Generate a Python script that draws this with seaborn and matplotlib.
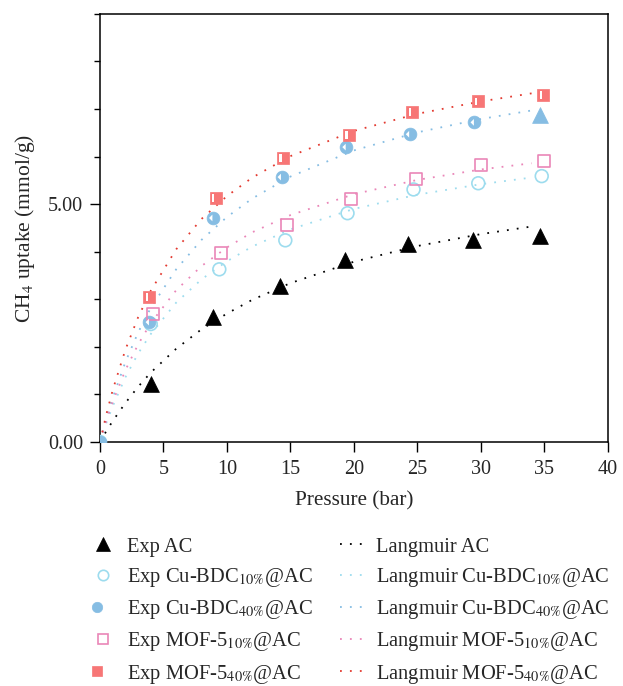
import numpy as np
import pandas as pd
import matplotlib
matplotlib.use("Agg")
import matplotlib.pyplot as plt
from matplotlib.lines import Line2D
from matplotlib.legend_handler import HandlerTuple
from matplotlib.ticker import MultipleLocator, FormatStrFormatter
import seaborn as sns

# experimental points (pressure in bar, uptake in mmol/g)
p_ac = [4.0, 8.9, 14.2, 19.3, 24.3, 29.4, 34.7]
q_ac = [1.22, 2.63, 3.28, 3.82, 4.16, 4.24, 4.33]

p_cu10 = [0.0, 4.0, 9.4, 14.6, 19.5, 24.7, 29.8, 34.8]
q_cu10 = [0.0, 2.48, 3.63, 4.24, 4.81, 5.31, 5.44, 5.59]

p_cu40 = [0.0, 3.9, 8.9, 14.3, 19.4, 24.4, 29.5]
q_cu40 = [0.0, 2.52, 4.71, 5.57, 6.20, 6.47, 6.72]
# last Cu-BDC40% point is drawn as a triangle in the original figure
p_cu40_last = [34.7]
q_cu40_last = [6.87]

p_mof10 = [4.2, 9.5, 14.7, 19.8, 24.9, 30.0, 35.0]
q_mof10 = [2.69, 3.97, 4.56, 5.10, 5.53, 5.82, 5.90]

p_mof40 = [3.9, 9.1, 14.4, 19.6, 24.6, 29.8, 34.9]
q_mof40 = [3.05, 5.13, 5.97, 6.45, 6.93, 7.16, 7.29]

# Langmuir fit curves
p_fit = [0, 0.5, 1, 2, 3, 4, 6, 8, 10, 12, 15, 20, 25, 30, 34]
fit_ac = [0, 0.23, 0.44, 0.82, 1.16, 1.46, 1.96, 2.37, 2.70, 2.99, 3.34, 3.79, 4.12, 4.37, 4.53]
fit_cu10 = [0, 0.40, 0.75, 1.36, 1.86, 2.27, 2.93, 3.42, 3.80, 4.11, 4.47, 4.90, 5.20, 5.42, 5.56]
fit_cu40 = [0, 0.49, 0.93, 1.68, 2.30, 2.82, 3.63, 4.25, 4.73, 5.12, 5.58, 6.13, 6.51, 6.79, 6.97]
fit_mof10 = [0, 0.45, 0.84, 1.51, 2.05, 2.50, 3.19, 3.70, 4.09, 4.41, 4.77, 5.21, 5.51, 5.73, 5.86]
fit_mof40 = [0, 0.58, 1.09, 1.94, 2.62, 3.18, 4.05, 4.69, 5.17, 5.56, 6.01, 6.54, 6.90, 7.16, 7.33]

c_ac = "#000000"
c_cu10 = "#9ddcee"
c_cu40 = "#86bde3"
c_mof10 = "#ea86b8"
c_mof40 = "#f77676"
c_mof40_line = "#e33a30"

sns.set_style("ticks")
plt.rcParams["font.family"] = ["Liberation Serif", "DejaVu Serif"]
plt.rcParams["mathtext.fontset"] = "stix"

fig = plt.figure(figsize=(6.23, 6.86), dpi=100)
ax = fig.add_axes([0.1605, 0.3557, 0.815, 0.624])

dot = (0, (1, 4.5))
fits = [(fit_ac, c_ac), (fit_cu10, c_cu10), (fit_cu40, c_cu40),
        (fit_mof10, c_mof10), (fit_mof40, c_mof40_line)]
for vals, col in fits:
    sns.lineplot(x=p_fit, y=vals, color=col, linestyle=dot, linewidth=1.3, ax=ax)

# white notches used for the half-filled markers
bar_verts = [(-0.3, -0.35), (-0.1, -0.35), (-0.1, 0.35), (-0.3, 0.35), (-0.3, -0.35)]
notch_verts = [(-0.35, 0.0), (-0.05, 0.3), (-0.05, -0.3), (-0.35, 0.0)]

sns.scatterplot(x=p_ac, y=q_ac, marker="^", s=130, color=c_ac, edgecolor=c_ac, linewidth=0.5, ax=ax, zorder=3)
sns.scatterplot(x=p_cu10, y=q_cu10, marker="o", s=85, facecolor="none", edgecolor=c_cu10, linewidth=1.2, ax=ax, zorder=3)
sns.scatterplot(x=p_cu40, y=q_cu40, marker="o", s=85, color=c_cu40, edgecolor=c_cu40, linewidth=0.5, ax=ax, zorder=3)
sns.scatterplot(x=p_cu40, y=q_cu40, marker=notch_verts, s=32, color="white", edgecolor="none", ax=ax, zorder=4)
sns.scatterplot(x=p_cu40_last, y=q_cu40_last, marker="^", s=130, color=c_cu40, edgecolor=c_cu40, linewidth=0.5, ax=ax, zorder=3)
sns.scatterplot(x=p_mof10, y=q_mof10, marker="s", s=75, facecolor="none", edgecolor=c_mof10, linewidth=1.2, ax=ax, zorder=3)
sns.scatterplot(x=p_mof40, y=q_mof40, marker="s", s=75, color=c_mof40, edgecolor=c_mof40, linewidth=0.5, ax=ax, zorder=3)
sns.scatterplot(x=p_mof40, y=q_mof40, marker=bar_verts, s=32, color="white", edgecolor="none", ax=ax, zorder=4)

ax.set_xlim(0, 40)
ax.set_ylim(0, 9)
ax.xaxis.set_major_locator(MultipleLocator(5))
ax.yaxis.set_major_locator(MultipleLocator(5))
ax.yaxis.set_minor_locator(MultipleLocator(1))
ax.yaxis.set_major_formatter(FormatStrFormatter("%.2f"))
ax.tick_params(axis="both", which="major", direction="out", length=7, width=1, labelsize=14.5, color="black", pad=5)
ax.tick_params(axis="x", which="major", pad=6)
ax.tick_params(axis="y", which="minor", direction="out", length=4, width=1, color="black")
for sp in ax.spines.values():
    sp.set_visible(True)
    sp.set_linewidth(1.1)
    sp.set_color("black")
ax.set_xlabel("Pressure (bar)", fontsize=15.3, labelpad=9)
ax.set_ylabel("CH$_4$ uptake (mmol/g)", fontsize=15.5, labelpad=8)

# legend
def mk(marker, size, fc, ec, mew=1.2):
    return Line2D([], [], linestyle="none", marker=marker, markersize=size,
                  markerfacecolor=fc, markeredgecolor=ec, markeredgewidth=mew)

h_exp = [
    mk("^", 9.5, c_ac, c_ac, 0.5),
    mk("o", 7.5, "none", c_cu10),
    (mk("o", 7.5, c_cu40, c_cu40, 0.5), mk(notch_verts, 4, "white", "none", 0)),
    mk("s", 7, "none", c_mof10),
    (mk("s", 7, c_mof40, c_mof40, 0.5), mk(bar_verts, 4, "white", "none", 0)),
]
h_fit = [Line2D([], [], color=col, linestyle=dot, linewidth=1.3) for _, col in fits]
labels = [
    "Exp AC",
    r"Exp Cu-BDC$_{\mathrm{10\%}}$@AC",
    r"Exp Cu-BDC$_{\mathrm{40\%}}$@AC",
    r"Exp MOF-5$_{\mathrm{10\%}}$@AC",
    r"Exp MOF-5$_{\mathrm{40\%}}$@AC",
    "Langmuir AC",
    r"Langmuir Cu-BDC$_{\mathrm{10\%}}$@AC",
    r"Langmuir Cu-BDC$_{\mathrm{40\%}}$@AC",
    r"Langmuir MOF-5$_{\mathrm{10\%}}$@AC",
    r"Langmuir MOF-5$_{\mathrm{40\%}}$@AC",
]
fig.legend(h_exp + h_fit, labels, loc="upper left", bbox_to_anchor=(0.1165, 0.2440),
           ncol=2, frameon=False, fontsize=14.8, handlelength=1.15, handletextpad=0.58,
           labelspacing=0.45, columnspacing=1.35,
           handler_map={tuple: HandlerTuple(ndivide=None, pad=0)})

fig.savefig("out.png", dpi=100)
